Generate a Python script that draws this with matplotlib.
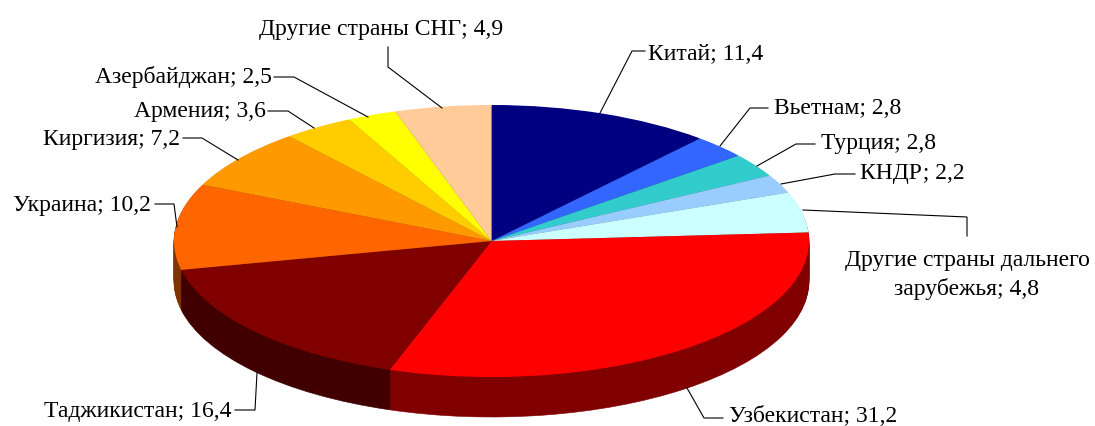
"""3D-style pie chart of shares by country."""

import matplotlib

matplotlib.use("Agg")
import matplotlib.pyplot as plt
import numpy as np

WIDTH, HEIGHT = 1095, 426

countries = ["Китай", "Вьетнам", "Турция", "КНДР", "Другие страны дальнего\nзарубежья",
             "Узбекистан", "Таджикистан", "Украина", "Киргизия", "Армения",
             "Азербайджан", "Другие страны СНГ"]
shares = [11.4, 2.8, 2.8, 2.2, 4.8, 31.2, 16.4, 10.2, 7.2, 3.6, 2.5, 4.9]
top_colors = ["#000080", "#3366FF", "#33CCCC", "#99CCFF", "#CCFFFF", "#FF0000",
              "#800000", "#FF6600", "#FF9900", "#FFCC00", "#FFFF00", "#FFCC99"]
side_colors = ["#000040", "#1A3380", "#1A6666", "#4D6680", "#668080", "#800000",
               "#400000", "#803300", "#804D00", "#806600", "#808000", "#80664D"]

# label anchor (x, y, ha) and leader polyline, in image pixels
label_pos = [(648, 54, "left"), (774, 109, "left"), (821, 144, "left"), (860, 174, "left"),
             (967, 275, "center"), (729, 416, "left"), (232, 411, "right"), (151, 205, "right"),
             (180, 139, "right"), (266, 112, "right"), (272, 77, "right"), (381, 29, "center")]
leaders = [
    [(600, 113), (632, 51), (645, 51)],
    [(720, 146), (750, 108), (768, 108)],
    [(757, 166), (796, 144), (815, 144)],
    [(781, 184), (835, 174), (855, 174)],
    [(803, 210), (967, 217), (967, 236)],
    [(687, 388), (704, 418), (723, 418)],
    [(257, 373), (255, 410), (235, 410)],
    [(155, 204), (174, 204), (177, 227)],
    [(183, 138), (202, 138), (238, 160)],
    [(268, 111), (288, 111), (314, 128)],
    [(274, 77), (294, 77), (368, 117)],
    [(388, 47), (388, 67), (442, 108)],
]

CX, CY, RX, RY, DEPTH = 491.5, 241, 317.5, 136, 40

plt.rcParams["font.family"] = ["Liberation Serif", "DejaVu Sans"]

fig = plt.figure(figsize=(WIDTH / 100, HEIGHT / 100), dpi=100)
fig.patch.set_facecolor("white")

# pie axes: unit circle squashed to the ellipse through non-equal limits
ax = fig.add_axes([0, 0, 1, 1])
for offset in np.arange(DEPTH, 0, -1):
    wedges, _ = ax.pie(shares, colors=side_colors, startangle=90, counterclock=False,
                       center=(0, -offset / RY))
    for wedge in wedges:
        wedge.set_edgecolor(wedge.get_facecolor())
        wedge.set_linewidth(0.4)
ax.pie(shares, colors=top_colors, startangle=90, counterclock=False,
       wedgeprops={"linewidth": 0})
ax.set_aspect("auto")
ax.set_xlim(-CX / RX, (WIDTH - CX) / RX)
ax.set_ylim((CY - HEIGHT) / RY, CY / RY)
ax.axis("off")

# overlay in pixel coordinates for labels and leader lines
ov = fig.add_axes([0, 0, 1, 1], facecolor="none")
ov.set_xlim(0, WIDTH)
ov.set_ylim(HEIGHT, 0)
ov.axis("off")

for name, share, (x, y, ha), path in zip(countries, shares, label_pos, leaders):
    xs, ys = zip(*path)
    ov.plot(xs, ys, color="black", linewidth=0.8, solid_joinstyle="miter")
    ov.text(x, y, f"{name}; {share:.1f}".replace(".", ","), ha=ha, va="center",
            fontsize=17, color="black", linespacing=1.43)

fig.savefig("out.png", dpi=100)
plt.close(fig)
